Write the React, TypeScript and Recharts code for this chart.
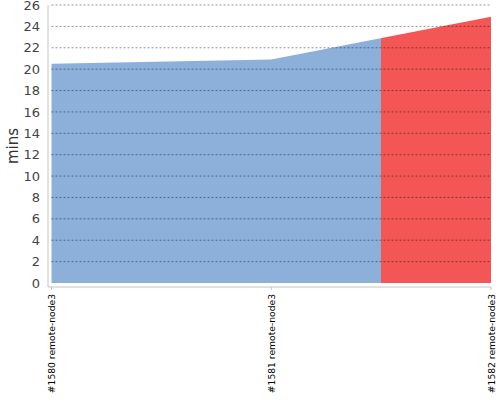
import { AreaChart, Area, XAxis, YAxis, ReferenceLine, Label } from "recharts";

const builds = ["#1580 remote-node3", "#1581 remote-node3", "#1582 remote-node3"];
const durations = [20.5, 20.9, 24.9];
const yTicks = [0, 2, 4, 6, 8, 10, 12, 14, 16, 18, 20, 22, 24, 26];

// last build failed -> red from halfway between the 2nd and 3rd point
const FAIL_SPLIT = 0.75;

const data = builds.map((b, i) => ({ build: b, mins: durations[i] }));

function BuildTick(props: any) {
  const { x, y, payload } = props;
  return (
    <text
      x={0}
      y={0}
      transform={`translate(${x + 3.5},${y + 2}) rotate(-90)`}
      textAnchor="end"
      fontSize={9.2}
      fontFamily="DejaVu Sans"
      fill="#000"
    >
      {payload.value}
    </text>
  );
}

export default function App() {
  return (
    <div style={{ position: "absolute", left: 0, top: 0, background: "#fff" }}>
      <AreaChart
        width={500}
        height={400}
        data={data}
        margin={{ top: 5, right: 9, left: 0, bottom: 0 }}
      >
        <defs>
          <linearGradient id="buildFill" x1="0" y1="0" x2="1" y2="0">
            <stop offset={0} stopColor="#8db0da" />
            <stop offset={FAIL_SPLIT} stopColor="#8db0da" />
            <stop offset={FAIL_SPLIT} stopColor="#f45656" />
            <stop offset={1} stopColor="#f45656" />
          </linearGradient>
        </defs>
        <XAxis
          dataKey="build"
          interval={0}
          height={113}
          padding={{ left: 3.5, right: 0 }}
          stroke="#c4c4c4"
          tickSize={3}
          tick={<BuildTick />}
        />
        <YAxis
          width={48}
          domain={[0, 26]}
          ticks={yTicks}
          interval={0}
          padding={{ top: 0, bottom: 4 }}
          stroke="#c4c4c4"
          tickLine={false}
          tick={{ fill: "#444", fontSize: 13, fontFamily: "DejaVu Sans" }}
        >
          <Label
            content={(p: any) => (
              <text
                x={0}
                y={0}
                transform={`translate(${p.viewBox.x + 18},${p.viewBox.y + p.viewBox.height / 2}) rotate(-90)`}
                textAnchor="middle"
                fontSize={15}
                fontFamily="DejaVu Sans"
                fill="#333"
              >
                mins
              </text>
            )}
          />
        </YAxis>
        <Area
          type="linear"
          dataKey="mins"
          stroke="none"
          fill="url(#buildFill)"
          fillOpacity={1}
          isAnimationActive={false}
        />
        {yTicks.slice(1).map((t) => (
          <ReferenceLine
            key={t}
            segment={[
              { x: builds[0], y: t },
              { x: builds[builds.length - 1], y: t },
            ]}
            stroke="rgba(0,0,0,0.42)"
            strokeDasharray="2 2"
          />
        ))}
      </AreaChart>
    </div>
  );
}
